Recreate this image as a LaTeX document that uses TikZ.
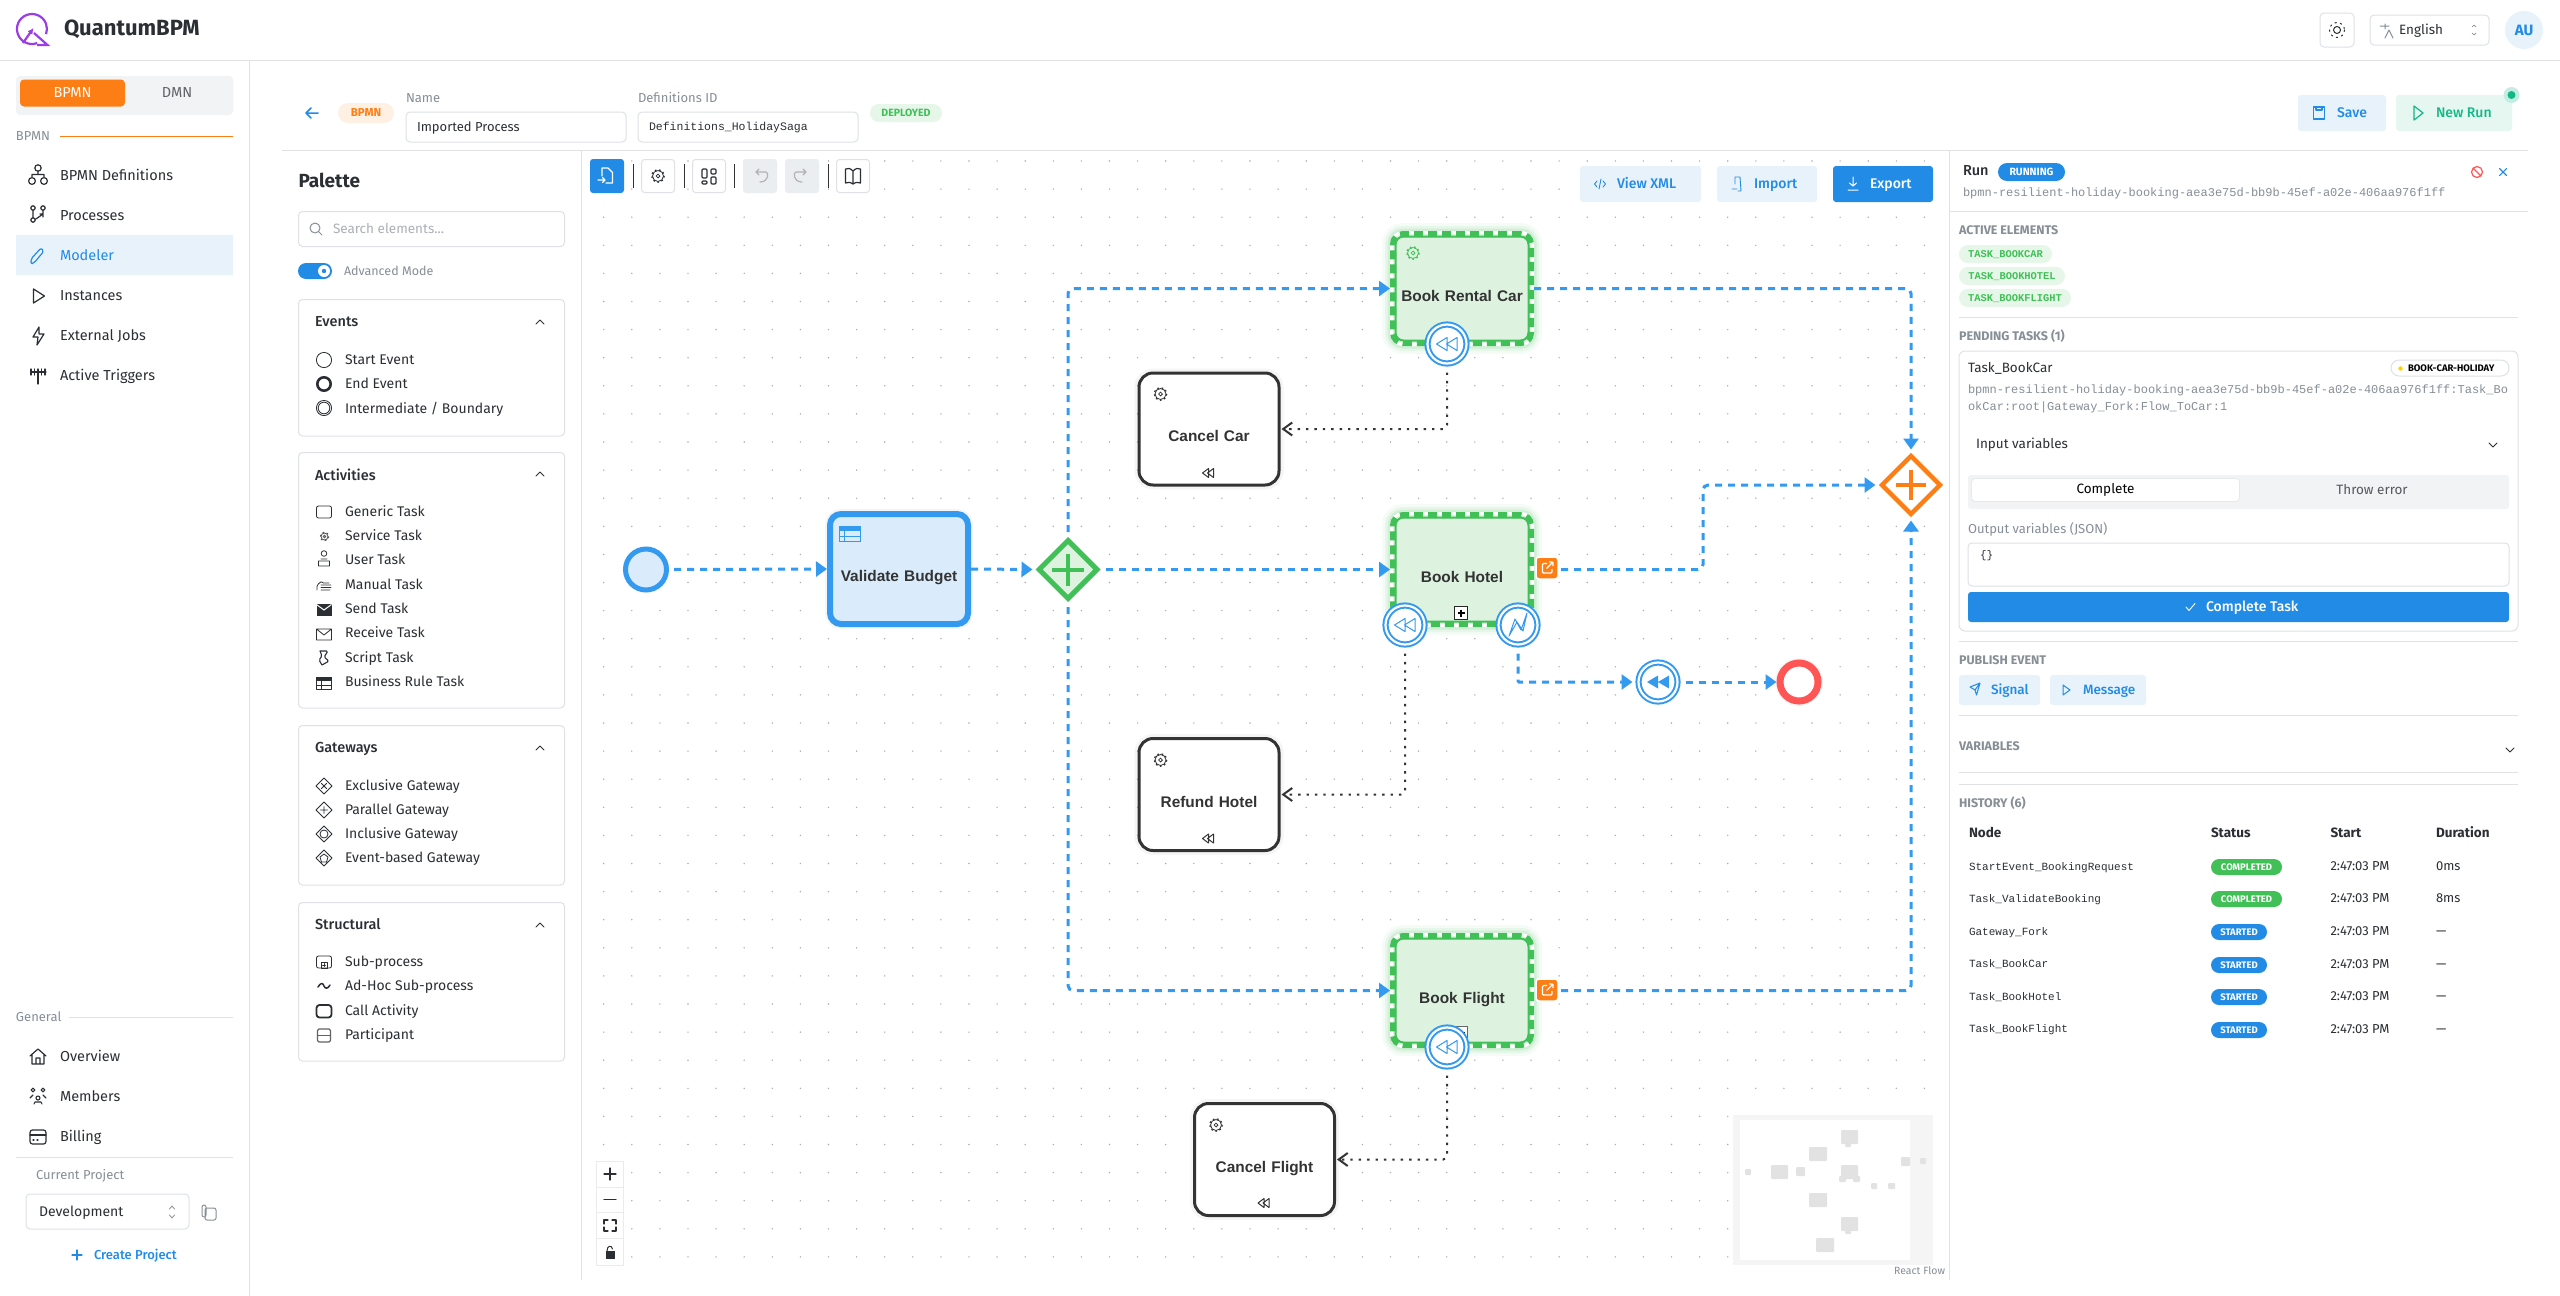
\documentclass[tikz,border=0pt]{standalone}
\usepackage{fontspec}
\setmainfont{Fira Sans}
\setmonofont{Liberation Mono}
\newfontfamily\flowfont{Liberation Sans}
\newfontfamily\medfont{Fira Sans Medium}
\usepackage{xcolor}
\usetikzlibrary{arrows.meta}
\usetikzlibrary{shapes.geometric}

\definecolor{flowblue}{HTML}{339AF0}
\definecolor{uiblue}{HTML}{228BE6}
\definecolor{uiorange}{HTML}{FD7E14}
\definecolor{flowgreen}{HTML}{40C057}
\definecolor{flowred}{HTML}{FF5555}
\definecolor{bluetint}{HTML}{E7F2FB}
\definecolor{greentint}{HTML}{E6F6E9}
\definecolor{orangetint}{HTML}{FFF0E4}
\definecolor{taskblue}{HTML}{DAECFC}
\definecolor{taskgreen}{HTML}{DDF3E0}
\definecolor{ink}{HTML}{2B2F33}
\definecolor{muted}{HTML}{868E96}
\definecolor{rulegray}{HTML}{DEE2E6}
\definecolor{softgray}{HTML}{F1F3F5}
\definecolor{flowink}{HTML}{333333}
\definecolor{tealgo}{HTML}{12B886}
\definecolor{tealtint}{HTML}{E6F7F1}
\definecolor{mapgray}{HTML}{E2E2E2}
\definecolor{logopurple}{HTML}{9B3DE6}

\newcommand{\px}[1]{\fontsize{#1}{#1}\selectfont}
\newcommand{\gearicon}[3]{%
  \draw[#3, line width=.8pt] (#1) circle (#2);
  \draw[#3, line width=1.2pt, dash pattern=on 1.7pt off 2.6pt] (#1) circle (#2+.7);
  \draw[#3, line width=.8pt] (#1) circle (#2*.35);}
\newcommand{\chevdown}[2]{\draw[icon, line width=1pt] (#1-4,#2-2) -- (#1,#2+2) -- (#1+4,#2-2);}
\newcommand{\chevup}[2]{\draw[icon, line width=1pt] (#1-4,#2+2) -- (#1,#2-2) -- (#1+4,#2+2);}

\tikzset{
  every node/.style={inner sep=0pt, outer sep=0pt},
  txt/.style={anchor=west, text=ink, yshift=-1.5pt, execute at begin node=\strut},
  mid/.style={text=ink, yshift=-1.5pt, execute at begin node=\strut},
  navtext/.style={txt, font=\px{14.5}},
  itemtext/.style={txt, font=\px{14}},
  cardtitle/.style={txt, font=\medfont\px{14.5}},
  btntext/.style={txt, font=\medfont\px{14}},
  labeltext/.style={txt, text=muted, font=\px{13}},
  section/.style={txt, text=muted, font=\px{12.5}\bfseries},
  chip/.style={rounded corners=8pt, minimum height=18pt, font=\px{10.5}\bfseries},
  monochip/.style={anchor=west, rounded corners=9pt, minimum height=18pt, fill=greentint, text=flowgreen, font=\ttfamily\px{10.4}\bfseries, text depth=0pt},
  statechip/.style={rounded corners=8pt, minimum height=16pt, text=white, font=\px{9.5}\bfseries},
  monotext/.style={txt, font=\ttfamily\px{11}},
  idtext/.style={txt, text=muted, font=\ttfamily\px{12}},
  panel/.style={draw=rulegray, fill=white, line width=1pt, rounded corners=4pt},
  thinrule/.style={draw=rulegray, line width=1pt},
  icon/.style={draw=ink, line width=1.2pt, line cap=round, line join=round},
  blueicon/.style={icon, draw=uiblue},
  paleticon/.style={icon, line width=.8pt},
  griddot/.style={fill=black!32},
  tasklabel/.style={font=\flowfont\px{15.4}\bfseries, text=flowink, text width=130pt, align=center, execute at begin node=\strut},
  activetask/.style={rectangle, rounded corners=10pt, minimum width=138pt, minimum height=109pt, outer sep=3pt,
    preaction={draw=flowgreen, solid, line width=22pt, draw opacity=.05},
    preaction={draw=flowgreen, solid, line width=16pt, draw opacity=.08},
    preaction={draw=flowgreen, solid, line width=11pt, draw opacity=.12},
    preaction={draw=white, solid, line width=6pt},
    fill=taskgreen, draw=flowgreen, line width=6pt, dash pattern=on 9pt off 5pt,
    path picture={\draw[flowgreen, line width=2pt, rounded corners=8pt, solid]
      ([shift={(2.5,2.5)}]path picture bounding box.north west) rectangle ([shift={(-2.5,-2.5)}]path picture bounding box.south east);}},
  comptask/.style={rectangle, rounded corners=14pt, minimum width=140pt, minimum height=112pt, outer sep=1.5pt,
    preaction={draw=black, line width=9pt, draw opacity=.04},
    fill=white, draw=flowink, line width=3pt},
  boundary/.style={circle, minimum size=39pt, fill=white, draw=flowblue, line width=2pt, double=white, double distance=2.2pt, outer sep=3pt},
  gateway/.style={diamond, minimum size=60pt, line width=5pt, outer sep=2.5pt},
  linkbox/.style={rounded corners=3pt, minimum size=22pt, fill=uiorange, draw=white, line width=1.5pt},
  flow/.style={draw=flowblue, line width=3pt, dash pattern=on 7pt off 6pt, rounded corners=5pt, -{Triangle[length=11pt,width=15pt]}},
  compen/.style={draw=flowink, line width=2pt, dash pattern=on 2.4pt off 6pt, rounded corners=4pt, -{Straight Barb[length=9pt,width=13pt]}},
}

\begin{document}
\begin{tikzpicture}[x=1pt, y=-1pt, font=\px{14}]
  \useasboundingbox (0,0) rectangle (2560,1296);
  \fill[white] (0,0) rectangle (2560,1296);

  % canvas dots
  \foreach \i in {0,...,47}
    \foreach \j in {0,...,39}
      \fill[griddot] (603.7+\i*28.1,161+\j*28.1) circle (.8);

  % frame lines
  \draw[thinrule] (0,60) -- (2560,60);
  \draw[thinrule] (249.5,60) -- (249.5,1296);
  \draw[thinrule] (282,150.5) -- (2528,150.5);
  \draw[thinrule] (581.5,150.5) -- (581.5,1280);
  \draw[thinrule] (1949,150.5) -- (1949,1280);

  % header
  \draw[draw=logopurple, line width=2.2pt] (37.1,43.1) arc (70:380:15);
  \draw[-{Latex[length=6pt,width=6pt]}, draw=logopurple, line width=2.2pt] (23,43) -- (33.5,28);
  \draw[draw=logopurple, line width=2.2pt] (34,33) -- (47.5,45) -- (37,45);
  \node[txt, font=\px{22}\bfseries] (brand) at (64,29) {QuantumBPM};
  \draw[panel] (2320,13) rectangle (2354,47);
  \draw[icon, line width=1pt] (2337,30) circle (3.5);
  \draw[icon, line width=1pt, dash pattern=on 1.5pt off 4pt] (2337,30) circle (7.5);
  \draw[panel] (2370,15) rectangle (2489,45);
  \draw[icon, draw=muted, line width=1pt] (2380,26) -- (2389,26) (2385,24) -- (2385,29) (2385,38) -- (2389,30) -- (2393,38);
  \node[txt, font=\px{13.5}] (language) at (2399,30) {English};
  \draw[icon, draw=muted, line width=.7pt] (2472,27) -- (2474,25) -- (2476,27) (2472,33) -- (2474,35) -- (2476,33);
  \node[circle, minimum size=38pt, fill=bluetint, text=uiblue, font=\px{15}\bfseries] (avatar) at (2524,30) {AU};

  % sidebar
  \fill[softgray, rounded corners=4pt] (16,76) rectangle (233,115);
  \node[rounded corners=4pt, fill=uiorange, minimum width=105pt, minimum height=27pt, text=white, font=\px{14.5}] (tabbpmn) at (72.5,93) {BPMN};
  \node[text=ink!75, font=\px{14.5}] (tabdmn) at (177,93) {DMN};
  \node[labeltext] (groupbpmn) at (16,136) {BPMN};
  \draw[uiorange, line width=1pt] (60,136.5) -- (233,136.5);
  \fill[bluetint] (16,235) rectangle (233,275);
  \node[navtext] (navdefs) at (60,176) {BPMN Definitions};
  \node[navtext] (navproc) at (60,216) {Processes};
  \node[navtext, text=uiblue] (navmodel) at (60,256) {Modeler};
  \node[navtext] (navinst) at (60,296) {Instances};
  \node[navtext] (navjobs) at (60,336) {External Jobs};
  \node[navtext] (navtrig) at (60,376) {Active Triggers};
  \node[labeltext] (groupgen) at (16,1017) {General};
  \draw[thinrule] (69,1017.5) -- (233,1017.5);
  \node[navtext] (navover) at (60,1057) {Overview};
  \node[navtext] (navmemb) at (60,1097) {Members};
  \node[navtext] (navbill) at (60,1137) {Billing};
  \draw[thinrule] (16,1157) -- (233,1157);
  \node[labeltext] (curproj) at (36,1175) {Current Project};
  \draw[panel] (26,1194) rectangle (189,1229);
  \node[txt, font=\px{14}] (project) at (39,1212) {Development};
  \draw[icon, draw=muted, line width=.8pt] (169.5,1209) -- (172,1206) -- (174.5,1209) (169.5,1215) -- (172,1218) -- (174.5,1215);
  \draw[icon, draw=muted, line width=1pt, rounded corners=2pt] (206,1205) rectangle (202,1217) (205,1208) rectangle (216,1220);
  \draw[blueicon] (72,1255) -- (82,1255) (77,1250) -- (77,1260);
  \node[txt, text=uiblue, font=\medfont\px{13}] (newproj) at (94,1255) {Create Project};

  % sidebar icons
  \draw[icon] (38,168) circle (3.2) (32,181) circle (3.4) (44,181) circle (3.4)
    (38,171) -- (38,174) (32,177.5) -- (32,174.5) -- (44,174.5) -- (44,177.5);
  \draw[icon] (33,208) circle (2.2) (43,208) circle (2.2) (33,220) circle (2.2)
    (33,210) -- (33,218) (43,210.5) -- (43,214) -- (36,219) (40,214) -- (43,214) -- (43,217);
  \draw[blueicon, rounded corners=2pt] (31,264) -- (31,259) -- (41,248) -- (44,251) -- (34,263) -- cycle;
  \draw[icon] (33.5,289) -- (33.5,303) -- (44.5,296) -- cycle;
  \draw[icon] (39,327) -- (33,337) -- (38,337) -- (37,345) -- (44,334) -- (39,334) -- cycle;
  \draw[icon] (38,369) -- (38,384) (31,372) -- (46,372) (31,369) -- (31,375) (34.5,369) -- (34.5,375) (41.5,369) -- (41.5,375) (45,369) -- (45,375);
  \draw[icon] (30,1056) -- (38,1049) -- (46,1056) (32,1055) -- (32,1064) -- (44,1064) -- (44,1055) (36,1064) -- (36,1058) -- (40,1058) -- (40,1064);
  \draw[icon, line width=1.1pt] (33,1090) circle (1.9) (43,1090) circle (1.9) (38,1098) circle (2)
    (30,1098) -- (33,1095) (46,1098) -- (43,1095) (34,1104) -- (35,1102) -- (41,1102) -- (42,1104);
  \draw[icon, rounded corners=2.5pt] (30,1130) rectangle (46,1144);
  \draw[icon] (30,1135) -- (46,1135) (33,1140) -- (34,1140) (37,1140) -- (38,1140);

  % process bar
  \draw[blueicon, line width=1.5pt] (318,113) -- (306,113) (311,108) -- (306,113) -- (311,118);
  \node[rounded corners=10pt, fill=orangetint, minimum width=56pt, minimum height=20pt, text=uiorange, font=\px{11.5}\bfseries] (kindchip) at (366,113) {BPMN};
  \node[labeltext] (namelabel) at (406,98) {Name};
  \draw[panel] (406,112) rectangle (626,142);
  \node[txt, font=\px{13}] (namevalue) at (417,127) {Imported Process};
  \node[labeltext] (defslabel) at (638,98) {Definitions ID};
  \draw[panel] (638,112) rectangle (858,142);
  \node[txt, font=\ttfamily\px{11.5}] (defsvalue) at (649,127) {Definitions\_HolidaySaga};
  \node[rounded corners=9pt, fill=greentint, minimum width=72pt, minimum height=18pt, text=flowgreen, font=\px{10.5}\bfseries] (deployed) at (906,113) {DEPLOYED};
  \node[rounded corners=3pt, fill=bluetint, minimum width=88pt, minimum height=36pt] (savebtn) at (2342,113) {};
  \draw[blueicon] (2313.5,107) rectangle (2324.5,119) (2316,107) -- (2316,110) -- (2322,110) -- (2322,107);
  \node[btntext, text=uiblue] (savetext) at (2337,113) {Save};
  \node[rounded corners=3pt, fill=tealtint, minimum width=116pt, minimum height=36pt] (runbtn) at (2454,113) {};
  \draw[icon, draw=tealgo] (2414,106) -- (2414,120) -- (2423,113) -- cycle;
  \node[btntext, text=tealgo] (runtext) at (2436,113) {New Run};
  \fill[tealgo!25] (2511.5,95) circle (8);
  \fill[tealgo] (2511.5,95) circle (4);

  % palette
  \node[txt, font=\px{19}\bfseries] (palette) at (298.5,182) {Palette};
  \draw[panel] (298.5,211.5) rectangle (564.5,246.5);
  \draw[icon, draw=muted, line width=1pt] (315,228) circle (5) (319,232) -- (322,235);
  \node[txt, text=muted!70, font=\px{13.5}] (searchbox) at (333,229) {Search elements...};
  \node[rounded corners=8pt, fill=uiblue, minimum width=34pt, minimum height=16pt] (toggle) at (315,271) {};
  \fill[white] (324,271) circle (6);
  \fill[uiblue] (324,271) circle (2.2);
  \node[labeltext, font=\px{12.5}] (advanced) at (344,271) {Advanced Mode};

  \draw[panel] (298.5,299.5) rectangle (564.5,436);
  \node[cardtitle] (cardevents) at (315,322) {Events};
  \chevup{540}{322}
  \node[itemtext] (pstart) at (345,360) {Start Event};
  \node[itemtext] (pend) at (345,384) {End Event};
  \node[itemtext] (pinter) at (345,408) {Intermediate / Boundary};
  \draw[icon, line width=.8pt] (324,360) circle (7.6);
  \draw[icon, line width=2.6pt] (324,384) circle (6.7);
  \draw[icon, line width=.8pt] (324,408) circle (7.6) (324,408) circle (5.8);

  \draw[panel] (298.5,452.5) rectangle (564.5,708);
  \node[cardtitle] (cardactive) at (315,475) {Activities};
  \chevup{540}{474}
  \node[itemtext] (pgeneric) at (345,512) {Generic Task};
  \node[itemtext] (pservice) at (345,536) {Service Task};
  \node[itemtext] (puser) at (345,560) {User Task};
  \node[itemtext] (pmanual) at (345,585) {Manual Task};
  \node[itemtext] (psend) at (345,609) {Send Task};
  \node[itemtext] (preceive) at (345,633) {Receive Task};
  \node[itemtext] (pscript) at (345,658) {Script Task};
  \node[itemtext] (prule) at (345,682) {Business Rule Task};
  \draw[paleticon, rounded corners=2pt] (316.5,506) rectangle (331.5,518);
  \gearicon{324.5,536.5}{3.5}{ink!80}
  \draw[paleticon] (324,553.5) circle (2.8) (318.5,566) -- (318.5,561) -- (329.5,561) -- (329.5,566) -- cycle (321,559) -- (327,559);
  \draw[paleticon, rounded corners=1.5pt] (317,590) -- (317,585) -- (322,581) -- (323,583) (321,590) -- (330,590) (321,587.5) -- (331,587.5) (321,585) -- (331,585) (323,583) -- (329,583);
  \fill[ink] (316.5,604) rectangle (331.5,616);
  \draw[white, line width=1pt] (316.5,604.5) -- (324,610) -- (331.5,604.5);
  \draw[paleticon] (316.5,629) rectangle (331.5,640) (316.5,629) -- (324,635) -- (331.5,629);
  \draw[paleticon, line width=1.1pt, rounded corners=1.5pt] (320,651) -- (328,651) -- (324,657) -- (329,661) -- (322,665) (320,651) -- (322,656) -- (319,660) -- (322,665);
  \draw[paleticon] (316.5,677) rectangle (331.5,689) (316.5,685) -- (331.5,685) (321,681) -- (321,689);
  \fill[ink] (316.5,677) rectangle (331.5,681);

  \draw[panel] (298.5,725.5) rectangle (564.5,885);
  \node[cardtitle] (cardgates) at (315,748) {Gateways};
  \chevup{540}{748}
  \node[itemtext] (pexcl) at (345,786) {Exclusive Gateway};
  \node[itemtext] (ppara) at (345,810) {Parallel Gateway};
  \node[itemtext] (pincl) at (345,834) {Inclusive Gateway};
  \node[itemtext] (pevnt) at (345,858) {Event-based Gateway};
  \draw[paleticon] (316,786) -- (324,778) -- (332,786) -- (324,794) -- cycle (321.5,783.5) -- (326.5,788.5) (326.5,783.5) -- (321.5,788.5);
  \draw[paleticon] (316,810) -- (324,802) -- (332,810) -- (324,818) -- cycle (320.5,810) -- (327.5,810) (324,806.5) -- (324,813.5);
  \draw[paleticon] (316,834) -- (324,826) -- (332,834) -- (324,842) -- cycle (324,834) circle (4);
  \draw[paleticon] (316,858) -- (324,850) -- (332,858) -- (324,866) -- cycle (324,854) -- (328,857) -- (326.5,862) -- (321.5,862) -- (320,857) -- cycle;

  \draw[panel] (298.5,902.5) rectangle (564.5,1061);
  \node[cardtitle] (cardstruct) at (315,925) {Structural};
  \chevup{540}{925}
  \node[itemtext] (psub) at (345,962) {Sub-process};
  \node[itemtext] (padhoc) at (345,986) {Ad-Hoc Sub-process};
  \node[itemtext] (pcall) at (345,1011) {Call Activity};
  \node[itemtext] (ppart) at (345,1035) {Participant};
  \draw[paleticon, rounded corners=2pt] (316.5,956) rectangle (331.5,968);
  \draw[paleticon] (321,962) rectangle (327,968) (322.5,965) -- (325.5,965) (324,963.5) -- (324,966.5);
  \draw[icon, line width=1.5pt] (318,987) .. controls (321,982) and (323,983) .. (324,986) .. controls (325,989) and (328,989) .. (330,985);
  \draw[icon, line width=1.8pt, rounded corners=3pt] (316.5,1005) rectangle (331.5,1017.5);
  \draw[paleticon, draw=ink!75, line width=1.1pt, rounded corners=1.5pt] (317.5,1029) rectangle (330.5,1042);
  \draw[paleticon, draw=ink!75, line width=1.1pt] (317.5,1035.5) -- (330.5,1035.5);

  % toolbar
  \node[rounded corners=3pt, fill=uiblue, minimum width=34pt, minimum height=34pt] (btnfile) at (607,176) {};
  \draw[icon, draw=white, line width=1.2pt] (602,176) -- (602,168) -- (608,168) -- (612.5,172.5) -- (612.5,183) -- (606,183) (598,180) -- (605,180) (602.5,177.5) -- (605,180) -- (602.5,182.5);
  \draw[thick, black!80] (633,164) -- (633,188) (684,164) -- (684,188) (734,164) -- (734,188) (828,164) -- (828,188);
  \node[rounded corners=3pt, fill=white, draw=rulegray, line width=1pt, minimum size=33pt] (btngear) at (658,176) {};
  \gearicon{658,176}{5.5}{ink}
  \node[rounded corners=3pt, fill=white, draw=rulegray, line width=1pt, minimum size=33pt] (btnlayout) at (709,176) {};
  \draw[icon, line width=1.1pt, rounded corners=1pt] (702,169) rectangle (707,178) (711,169) rectangle (716,174) (702,181) rectangle (707,184) (711,177) rectangle (716,184);
  \node[rounded corners=3pt, fill=softgray!70!rulegray, minimum size=34pt] (btnundo) at (760,176) {};
  \node[rounded corners=3pt, fill=softgray!70!rulegray, minimum size=34pt] (btnredo) at (802,176) {};
  \draw[icon, draw=black!30] (756,172) -- (766,172) .. controls (769,172) and (769,182) .. (760,182) (759,169) -- (756,172) -- (759,175);
  \draw[icon, draw=black!30] (806,172) -- (796,172) .. controls (793,172) and (793,182) .. (802,182) (803,169) -- (806,172) -- (803,175);
  \node[rounded corners=3pt, fill=white, draw=rulegray, line width=1pt, minimum size=33pt] (btnbook) at (853,176) {};
  \draw[icon, line width=1.2pt] (853,171) .. controls (850,168) and (848,168) .. (845.5,169) -- (845.5,183) .. controls (848,182) and (850,182) .. (853,184) .. controls (856,182) and (858,182) .. (860.5,183) -- (860.5,169) .. controls (858,168) and (856,168) .. (853,171) -- (853,184);

  \node[rounded corners=3pt, fill=bluetint, minimum width=121pt, minimum height=36pt] (btnxml) at (1640.5,184) {};
  \draw[blueicon, line width=.9pt] (1597,181) -- (1594.5,184) -- (1597,187) (1603,181) -- (1605.5,184) -- (1603,187) (1601,179) -- (1599,189);
  \node[btntext, text=uiblue] (xmltext) at (1617,184) {View XML};
  \node[rounded corners=3pt, fill=bluetint, minimum width=100pt, minimum height=36pt] (btnimport) at (1767,184) {};
  \draw[blueicon, line width=.9pt] (1735,184) -- (1735,177) -- (1740,177) -- (1741,191) -- (1738,191) (1732,189) -- (1737,189);
  \node[btntext, text=uiblue] (importtext) at (1754,184) {Import};
  \node[rounded corners=3pt, fill=uiblue, minimum width=100pt, minimum height=36pt] (btnexport) at (1883,184) {};
  \draw[icon, draw=white, line width=1pt] (1853,177) -- (1853,186) (1849.5,183) -- (1853,186) -- (1856.5,183) (1848,190) -- (1858,190);
  \node[btntext, text=white] (exporttext) at (1870,184) {Export};

  % zoom controls
  \draw[draw=black!8, fill=white, line width=1pt] (596,1161) rectangle (623,1265) (596,1187) -- (623,1187) (596,1212) -- (623,1212) (596,1238) -- (623,1238);
  \draw[icon] (604,1174) -- (616,1174) (610,1168) -- (610,1180);
  \draw[icon] (604,1199.5) -- (616,1199.5);
  \draw[icon] (604,1224) -- (604,1220) -- (608,1220) (612,1220) -- (616,1220) -- (616,1224) (604,1227) -- (604,1231) -- (608,1231) (612,1231) -- (616,1231) -- (616,1227);
  \fill[ink] (605.5,1251) rectangle (614.5,1259);
  \draw[icon, line width=1pt] (607,1251) .. controls (607,1245) and (612,1245) .. (612.5,1249);

  % minimap
  \fill[black!4] (1733,1115) rectangle (1933,1265);
  \fill[white] (1740,1120) rectangle (1910,1260);
  \fill[mapgray, rounded corners=1pt] (1841,1130) rectangle (1858,1144) (1845,1144) rectangle (1851,1147)
    (1809,1147) rectangle (1827,1161) (1745,1169) rectangle (1751,1175) (1771,1165) rectangle (1788,1179)
    (1796,1167) rectangle (1805,1176) (1841,1165) rectangle (1858,1179) (1839,1176) rectangle (1846,1182)
    (1853,1176) rectangle (1860,1182) (1901,1157) rectangle (1910,1166) (1920,1158) rectangle (1926,1164)
    (1871,1183) rectangle (1877,1189) (1888,1183) rectangle (1895,1189) (1809,1193) rectangle (1827,1207)
    (1841,1217) rectangle (1858,1231) (1845,1231) rectangle (1851,1234) (1816,1238) rectangle (1834,1252);
  \node[anchor=east, text=muted, font=\px{10.5}, yshift=-1pt, execute at begin node=\strut] (reactflow) at (1945,1271) {React Flow};

  % process nodes
  \node[circle, minimum size=41pt, line width=5pt, fill=taskblue, draw=flowblue, outer sep=2.5pt] (startev) at (646,569.5) {};
  \node[rectangle, rounded corners=11pt, minimum width=138pt, minimum height=110pt, outer sep=3pt,
    preaction={draw=black, line width=10pt, draw opacity=.04},
    fill=taskblue, draw=flowblue, line width=6pt] (validate) at (899,569) {};
  \node[tasklabel] (validatetext) at (899,578.5) {Validate Budget};
  \draw[flowblue, line width=1pt] (839.5,526.5) rectangle (860.5,541.5) (839.5,536) -- (860.5,536) (844,531) -- (844,541.5);
  \fill[flowblue] (839.5,526.5) rectangle (860.5,531);
  \node[gateway, fill=taskgreen, draw=flowgreen] (gate) at (1068,569.5) {};
  \draw[flowgreen, line width=4pt] (1052,569.5) -- (1084,569.5) (1068,553.5) -- (1068,585.5);
  \node[gateway, fill=white, draw=uiorange, line width=4.5pt] (join) at (1911,485) {};
  \draw[uiorange, line width=3.5pt] (1896,485) -- (1926,485) (1911,470) -- (1911,500);

  \node[comptask] (cancelcar) at (1209,429) {};
  \node[tasklabel] (cancelcartext) at (1209,438.5) {Cancel Car};
  \node[comptask] (refund) at (1209,794.5) {};
  \node[tasklabel] (refundtext) at (1209,804) {Refund Hotel};
  \node[comptask] (cancelflight) at (1264.5,1159.5) {};
  \node[tasklabel] (cancelflighttext) at (1264.5,1169) {Cancel Flight};
  \gearicon{1160.5,394}{5.5}{flowink}
  \gearicon{1160.5,760}{5.5}{flowink}
  \gearicon{1216,1125}{5.5}{flowink}
  \foreach \mx/\my in {1209/473,1209/838.5,1264.5/1203} {
    \draw[flowink, line width=1pt, line join=round] (\mx-6.5,\my) -- (\mx-.5,\my-4.5) -- (\mx-.5,\my+4.5) -- cycle
      (\mx-1.5,\my) -- (\mx+4.5,\my-4.5) -- (\mx+4.5,\my+4.5) -- cycle;
  }

  \node[activetask] (bookcar) at (1462,288.5) {};
  \node[tasklabel] (bookcartext) at (1462,298) {Book Rental Car};
  \gearicon{1413,253}{5.5}{flowgreen}
  \node[activetask] (bookhotel) at (1462,569.5) {};
  \node[tasklabel] (bookhoteltext) at (1462,579) {Book Hotel};
  \node[activetask] (bookflight) at (1462,990.5) {};
  \node[tasklabel] (bookflighttext) at (1462,1000) {Book Flight};
  \draw[black!85, fill=white, line width=1pt] (1454.5,606.5) rectangle (1467.5,619.5);
  \draw[black, line width=1.1pt] (1457.5,613) -- (1464.5,613) (1461,609.5) -- (1461,616.5);
  \draw[black!60, fill=white, line width=1pt] (1454.5,1026.5) rectangle (1467.5,1039.5);
  \draw[black, line width=1.1pt] (1457.5,1033) -- (1464.5,1033) (1461,1029.5) -- (1461,1036.5);

  \node[boundary] (bcar) at (1447,344) {};
  \node[boundary] (bhotel) at (1405,625) {};
  \node[boundary] (berror) at (1518,625) {};
  \node[boundary] (bflight) at (1447,1047) {};
  \node[boundary] (throwcomp) at (1658,682) {};
  \node[circle, minimum size=38pt, line width=7pt, fill=white, draw=flowred, outer sep=3.5pt,
    preaction={draw=black, line width=10pt, draw opacity=.04}] (endev) at (1799,682) {};
  \foreach \bx/\by in {1447/344,1405/625,1447/1047} {
    \draw[flowblue, line width=1pt, line join=round] (\bx-10.5,\by) -- (\bx,\by-6.5) -- (\bx,\by+6.5) -- cycle
      (\bx-.5,\by) -- (\bx+10,\by-6.5) -- (\bx+10,\by+6.5) -- cycle;
  }
  \fill[flowblue] (1647,682) -- (1658,675.5) -- (1658,688.5) -- cycle (1658,682) -- (1669,675.5) -- (1669,688.5) -- cycle;
  \draw[flowblue, line width=1pt, line join=round] (1509,636) -- (1515,619) -- (1521,630) -- (1527,613) -- (1523,631) -- (1517,622) -- cycle;
  \node[linkbox] (hotellink) at (1547,568) {};
  \node[linkbox] (flightlink) at (1547,990) {};
  \draw[white, line width=1.1pt, rounded corners=1pt] (1547,563.5) -- (1542.5,563.5) -- (1542.5,573) -- (1552,573) -- (1552,569) (1546.5,568.5) -- (1553,562) (1549,562) -- (1553,562) -- (1553,566);
  \draw[white, line width=1.1pt, rounded corners=1pt] (1547,985.5) -- (1542.5,985.5) -- (1542.5,995) -- (1552,995) -- (1552,991) (1546.5,990.5) -- (1553,984) (1549,984) -- (1553,984) -- (1553,988);

  % flows
  \coordinate (hotelbend) at (1703,569.5);
  \coordinate (errorbend) at (1518,682);
  \draw[flow, shorten <=5pt] (startev.east) -- (validate.west);
  \draw[flow, shorten >=3pt] (validate.east) -- (gate.west);
  \draw[flow, shorten <=5pt] (gate.east) -- (bookhotel.west);
  \draw[flow, shorten <=5pt] (gate.north) |- (bookcar.west);
  \draw[flow, shorten <=5pt] (gate.south) |- (bookflight.west);
  \draw[flow, shorten >=3pt] (bookcar.east) -| (join.north);
  \draw[flow, shorten <=3pt, shorten >=3pt] (hotellink.east |- bookhotel.east) -- (hotelbend) |- (join.west);
  \draw[flow, shorten <=3pt, shorten >=3pt] (flightlink.east |- bookflight.east) -| (join.south);
  \draw[flow, rounded corners=1pt, shorten <=6pt, shorten >=3pt] (berror.south) -- (errorbend) -- (throwcomp.west);
  \draw[flow, shorten <=5pt] (throwcomp.east) -- (endev.west);
  \draw[compen, shorten <=6pt, shorten >=1pt] (bcar.south) |- (cancelcar.east);
  \draw[compen, shorten <=6pt, shorten >=1pt] (bhotel.south) |- (refund.east);
  \draw[compen, shorten <=6pt, shorten >=1pt] (bflight.south) |- (cancelflight.east);

  % run panel
  \node[txt, font=\medfont\px{14.5}] (runtitle) at (1963,171) {Run};
  \node[chip, rounded corners=9pt, fill=uiblue, text=white, minimum width=67pt] (runstate) at (2031.5,172) {RUNNING};
  \node[idtext] (runid) at (1963,192) {bpmn-resilient-holiday-booking-aea3e75d-bb9b-45ef-a02e-406aa976f1ff};
  \draw[flowred, line width=1.2pt] (2477,172) circle (5.5) (2473,168) -- (2481,176);
  \draw[blueicon, line width=1.1pt] (2499.5,168.5) -- (2506.5,175.5) (2506.5,168.5) -- (2499.5,175.5);
  \draw[thinrule] (1949,211) -- (2528,211);
  \node[section] (activehead) at (1959,230) {ACTIVE ELEMENTS};
  \node[monochip, minimum width=93pt, text width=75pt, align=center] (activecar) at (1959,254) {TASK\_BOOKCAR};
  \node[monochip, minimum width=106pt, text width=88pt, align=center] (activehotel) at (1959,276) {TASK\_BOOKHOTEL};
  \node[monochip, minimum width=112pt, text width=94pt, align=center] (activeflight) at (1959,298) {TASK\_BOOKFLIGHT};
  \draw[thinrule] (1959,317) -- (2518,317);
  \node[section] (pendinghead) at (1959,336) {PENDING TASKS (1)};
  \draw[panel, rounded corners=6pt] (1959,351) rectangle (2518,631);
  \node[txt, font=\px{13.5}] (pendingname) at (1968,368) {Task\_BookCar};
  \node[rounded corners=8pt, draw=rulegray, fill=white, line width=1pt, minimum width=118pt, minimum height=16pt] (topicchip) at (2450,368) {};
  \fill[yellow!70!orange] (2400.5,368.5) circle (2.2);
  \node[anchor=west, font=\px{9.5}\bfseries, text=black] (topictext) at (2408,368.5) {BOOK-CAR-HOLIDAY};
  \node[idtext] (pendingid) at (1968,389) {bpmn-resilient-holiday-booking-aea3e75d-bb9b-45ef-a02e-406aa976f1ff:Task\_Bo};
  \node[idtext] (pendingid2) at (1968,406) {okCar:root|Gateway\_Fork:Flow\_ToCar:1};
  \node[txt, font=\px{13.5}] (inputvars) at (1976,444) {Input variables};
  \chevdown{2493}{445}
  \fill[softgray, rounded corners=3pt] (1968,475) rectangle (2509,509);
  \node[rounded corners=3pt, fill=white, minimum width=267pt, minimum height=22pt,
    preaction={draw=black, line width=1.5pt, draw opacity=.06}, font=\px{13.5}] (optcomplete) at (2105.5,490) {Complete};
  \node[text=ink!80, font=\px{13.5}] (optthrow) at (2372,490) {Throw error};
  \node[labeltext] (outputlabel) at (1968,528) {Output variables (JSON)};
  \draw[panel] (1968,543) rectangle (2509,586);
  \node[txt, font=\ttfamily\px{11}] (outputvalue) at (1980,555) {\{\}};
  \node[rounded corners=3pt, fill=uiblue, minimum width=541pt, minimum height=30pt] (completebtn) at (2238.5,607) {};
  \draw[icon, draw=white, line width=.9pt] (2186,607) -- (2189,610.5) -- (2195,603.5);
  \node[btntext, text=white] (completetext) at (2206,607) {Complete Task};
  \draw[thinrule] (1959,641) -- (2518,641);
  \node[section] (publishhead) at (1959,660) {PUBLISH EVENT};
  \node[rounded corners=3pt, fill=bluetint, minimum width=81pt, minimum height=30pt] (signalbtn) at (1999.5,690) {};
  \draw[blueicon, line width=1pt] (1970,687) -- (1980,683) -- (1976.5,695) -- (1975,690) -- cycle (1975,690) -- (1980,683);
  \node[btntext, text=uiblue, font=\medfont\px{13.5}] (signaltext) at (1991,690) {Signal};
  \node[rounded corners=3pt, fill=bluetint, minimum width=96pt, minimum height=30pt] (messagebtn) at (2098,690) {};
  \draw[blueicon, line width=1pt] (2063,685) -- (2063,695) -- (2070,690) -- cycle;
  \node[btntext, text=uiblue, font=\medfont\px{13.5}] (messagetext) at (2083,690) {Message};
  \draw[thinrule] (1959,715) -- (2518,715);
  \node[section] (varshead) at (1959,746) {VARIABLES};
  \chevdown{2510}{750}
  \draw[thinrule] (1959,772) -- (2518,772);
  \draw[thinrule] (1959,784) -- (2518,784);
  \node[section] (historyhead) at (1959,802) {HISTORY (6)};

  % history table
  \node[txt, font=\px{13.5}\bfseries] (headnode) at (1969,833) {Node};
  \node[txt, font=\px{13.5}\bfseries] (headstatus) at (2211,833) {Status};
  \node[txt, font=\px{13.5}\bfseries] (headstart) at (2330.5,833) {Start};
  \node[txt, font=\px{13.5}\bfseries] (headdur) at (2436,833) {Duration};
  \node[monotext] (row1) at (1969,867) {StartEvent\_BookingRequest};
  \node[monotext] (row2) at (1969,899) {Task\_ValidateBooking};
  \node[monotext] (row3) at (1969,932) {Gateway\_Fork};
  \node[monotext] (row4) at (1969,964) {Task\_BookCar};
  \node[monotext] (row5) at (1969,997) {Task\_BookHotel};
  \node[monotext] (row6) at (1969,1029) {Task\_BookFlight};
  \node[statechip, fill=flowgreen, minimum width=71pt] (state1) at (2246.5,867) {COMPLETED};
  \node[statechip, fill=flowgreen, minimum width=71pt] (state2) at (2246.5,899) {COMPLETED};
  \node[statechip, fill=uiblue, minimum width=56pt] (state3) at (2239,932) {STARTED};
  \node[statechip, fill=uiblue, minimum width=56pt] (state4) at (2239,965) {STARTED};
  \node[statechip, fill=uiblue, minimum width=56pt] (state5) at (2239,997) {STARTED};
  \node[statechip, fill=uiblue, minimum width=56pt] (state6) at (2239,1030) {STARTED};
  \node[itemtext, font=\px{13}] (start1) at (2330.5,866) {2:47:03 PM};
  \node[itemtext, font=\px{13}] (start2) at (2330.5,898) {2:47:03 PM};
  \node[itemtext, font=\px{13}] (start3) at (2330.5,931) {2:47:03 PM};
  \node[itemtext, font=\px{13}] (start4) at (2330.5,964) {2:47:03 PM};
  \node[itemtext, font=\px{13}] (start5) at (2330.5,996) {2:47:03 PM};
  \node[itemtext, font=\px{13}] (start6) at (2330.5,1029) {2:47:03 PM};
  \node[itemtext, font=\px{13}] (dur1) at (2436,866) {0ms};
  \node[itemtext, font=\px{13}] (dur2) at (2436,898) {8ms};
  \node[itemtext, font=\px{13}] (dur3) at (2436,931) {—};
  \node[itemtext, font=\px{13}] (dur4) at (2436,964) {—};
  \node[itemtext, font=\px{13}] (dur5) at (2436,996) {—};
  \node[itemtext, font=\px{13}] (dur6) at (2436,1029) {—};
\end{tikzpicture}
\end{document}
